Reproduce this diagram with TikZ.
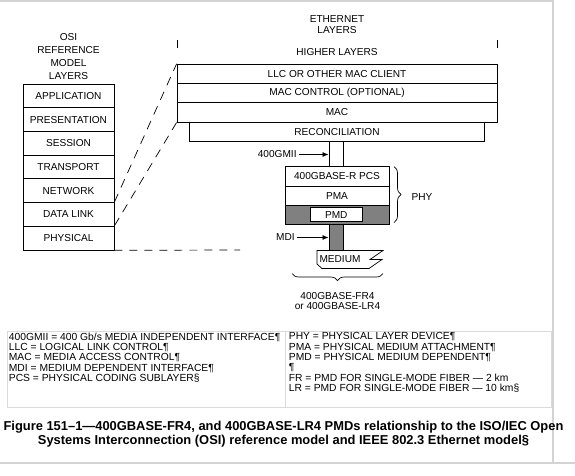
\documentclass[tikz,border=0pt]{standalone}
\usepackage{fontspec}
\setmainfont{Liberation Sans}
\usetikzlibrary{arrows.meta,decorations.pathreplacing}
\definecolor{pmdgray}{HTML}{808080}
\definecolor{pageline}{HTML}{D4D4D4}
\definecolor{tableline}{HTML}{DADADA}
\begin{document}
\begin{tikzpicture}[x=1pt,y=-1pt,
  font=\fontsize{10.1}{10.4}\selectfont,
  line width=0.8pt,
  osibox/.style={draw, minimum width=91pt, minimum height=23.7pt, inner sep=0pt},
  ethbox/.style={draw, minimum width=320pt, minimum height=19.3pt, inner sep=0pt},
  phybox/.style={draw, minimum width=104pt, minimum height=19.3pt, inner sep=0pt},
  plain/.style={inner sep=0pt},
  arr/.style={-{Latex[length=6pt,width=5pt]}, line width=0.7pt},
  dashA/.style={dash pattern=on 9pt off 7pt, line width=0.7pt},
  dashB/.style={dash pattern=on 8pt off 7pt, line width=0.7pt},
  brc/.style={decorate, decoration={brace, amplitude=7pt}, line width=0.7pt}
]
\useasboundingbox (0,0) rectangle (575,475);
% page borders
\draw[pageline, line width=1.2pt] (0,1) -- (553,1) -- (553,463);
\draw[pageline, line width=1.2pt] (0,463) -- (575,463);

% OSI column
\node[plain, align=center, font=\fontsize{10.1}{12.7}\selectfont] (osititle) at (68.5,56.5) {OSI\\REFERENCE\\MODEL\\LAYERS};
\node[osibox] (app) at (68.5,95.85) {APPLICATION};
\node[osibox] (pres) at (68.5,119.55) {PRESENTATION};
\node[osibox] (sess) at (68.5,143.25) {SESSION};
\node[osibox] (trans) at (68.5,166.95) {TRANSPORT};
\node[osibox] (net) at (68.5,190.65) {NETWORK};
\node[osibox] (dl) at (68.5,214.35) {DATA LINK};
\node[osibox] (phys) at (68.5,238.05) {PHYSICAL};

% Ethernet column
\node[plain, align=center, font=\fontsize{10.1}{11}\selectfont] (ethtitle) at (337,24.5) {ETHERNET\\LAYERS};
\coordinate (tickL1) at (177,40); \coordinate (tickL2) at (177,48);
\coordinate (tickR1) at (497,40); \coordinate (tickR2) at (497,48);
\draw (tickL1) -- (tickL2);
\draw (tickR1) -- (tickR2);
\node[plain] (higher) at (337,52.5) {HIGHER LAYERS};
\node[ethbox] (llc) at (337,73.85) {LLC OR OTHER MAC CLIENT};
\node[ethbox] (macc) at (337,93.15) {MAC CONTROL (OPTIONAL)};
\node[ethbox] (mac) at (337,112.45) {MAC};
\node[plain, minimum width=294pt, minimum height=19pt] (rec) at (337,131.6) {RECONCILIATION};
\draw (rec.north west) -- (rec.south west) -- (rec.south east) -- (rec.north east);

% PHY stack
\node[phybox] (pcs) at (337,176.35) {400GBASE-R PCS};
\node[phybox] (pma) at (337,195.65) {PMA};
\node[phybox, fill=pmdgray] (pmdrow) at (337,214.95) {};
\node[draw, fill=white, minimum width=52pt, minimum height=14pt, inner sep=0pt, line width=0.5pt] (pmd) at (336.3,214.7) {PMD};

% 400GMII
\coordinate (gL1) at (329,141.1); \coordinate (gL2) at (329,166.7);
\coordinate (gR1) at (343,141.1); \coordinate (gR2) at (343,166.7);
\draw (gL1) -- (gL2);
\draw (gR1) -- (gR2);
\node[plain, anchor=east] (gmii) at (297,154.5) {400GMII};
\coordinate (gmiiA) at (328.5,154.5);
\draw[arr] ([xshift=2pt]gmii.east) -- (gmiiA);

% MDI
\node[draw, fill=pmdgray, minimum width=14pt, minimum height=26pt, inner sep=0pt] (mdi) at (336,237.3) {};
\node[plain, anchor=east] (mdilbl) at (295,237.5) {MDI};
\coordinate (mdiA) at (328.5,237.5);
\draw[arr] ([xshift=2pt]mdilbl.east) -- (mdiA);

% Medium
\coordinate (m1) at (317,250.5);
\coordinate (m2) at (383,250.5);
\coordinate (m3) at (370,259.5);
\coordinate (m4) at (382,259.5);
\coordinate (m5) at (369,268.5);
\coordinate (m6) at (322,268.5);
\coordinate (m7) at (317,264);
\draw[fill=white, line width=0.7pt] (m1) -- (m2) -- (m3) -- (m4) -- (m5) -- (m6) -- (m7) -- cycle;
\node[plain] (medium) at (340,259.5) {MEDIUM};

% braces
\coordinate (bpT) at (394,166.5); \coordinate (bpB) at (394,222.5);
\draw[brc] (bpT) -- (bpB);
\node[plain] (phylbl) at (422,197.5) {PHY};
\coordinate (bbR) at (383,273.5); \coordinate (bbL) at (292,273.5);
\draw[brc] (bbR) -- (bbL);
\node[plain, align=center, font=\fontsize{10.1}{10.5}\selectfont] (pmdname) at (337.5,301) {400GBASE-FR4\\or 400GBASE-LR4};

% dashed relations
\coordinate (dashend) at (240,250);
\draw[dashA] (dl.north east) -- (llc.north west);
\draw[dashA] (phys.north east) -- (mac.south west);
\draw[dashB] (phys.south east) -- (dashend);

% legend table
\draw[tableline, line width=0.8pt] (7.5,331.5) rectangle (551,407.5);
\draw[tableline, line width=0.8pt] (285,331.5) -- (285,407.5);
\node[plain, anchor=north west, align=left, font=\fontsize{10.3}{10.35}\selectfont] (legL) at (8.5,332.3) {400GMII = 400 Gb/s MEDIA INDEPENDENT INTERFACE¶\\LLC = LOGICAL LINK CONTROL¶\\MAC = MEDIA ACCESS CONTROL¶\\MDI = MEDIUM DEPENDENT INTERFACE¶\\PCS = PHYSICAL CODING SUBLAYER§};
\node[plain, anchor=north west, align=left, font=\fontsize{10.3}{10.35}\selectfont] (legR) at (288.5,332.3) {PHY = PHYSICAL LAYER DEVICE¶\\PMA = PHYSICAL MEDIUM ATTACHMENT¶\\PMD = PHYSICAL MEDIUM DEPENDENT¶\\¶\\FR = PMD FOR SINGLE-MODE FIBER — 2 km\\LR = PMD FOR SINGLE-MODE FIBER — 10 km§};

% caption
\node[plain, align=center, font=\bfseries\fontsize{12.9}{14}\selectfont] (caption) at (283.5,434.5) {Figure 151–1—400GBASE-FR4, and 400GBASE-LR4 PMDs relationship to the ISO/IEC Open\\Systems Interconnection (OSI) reference model and IEEE 802.3 Ethernet model§};
\end{tikzpicture}
\end{document}
